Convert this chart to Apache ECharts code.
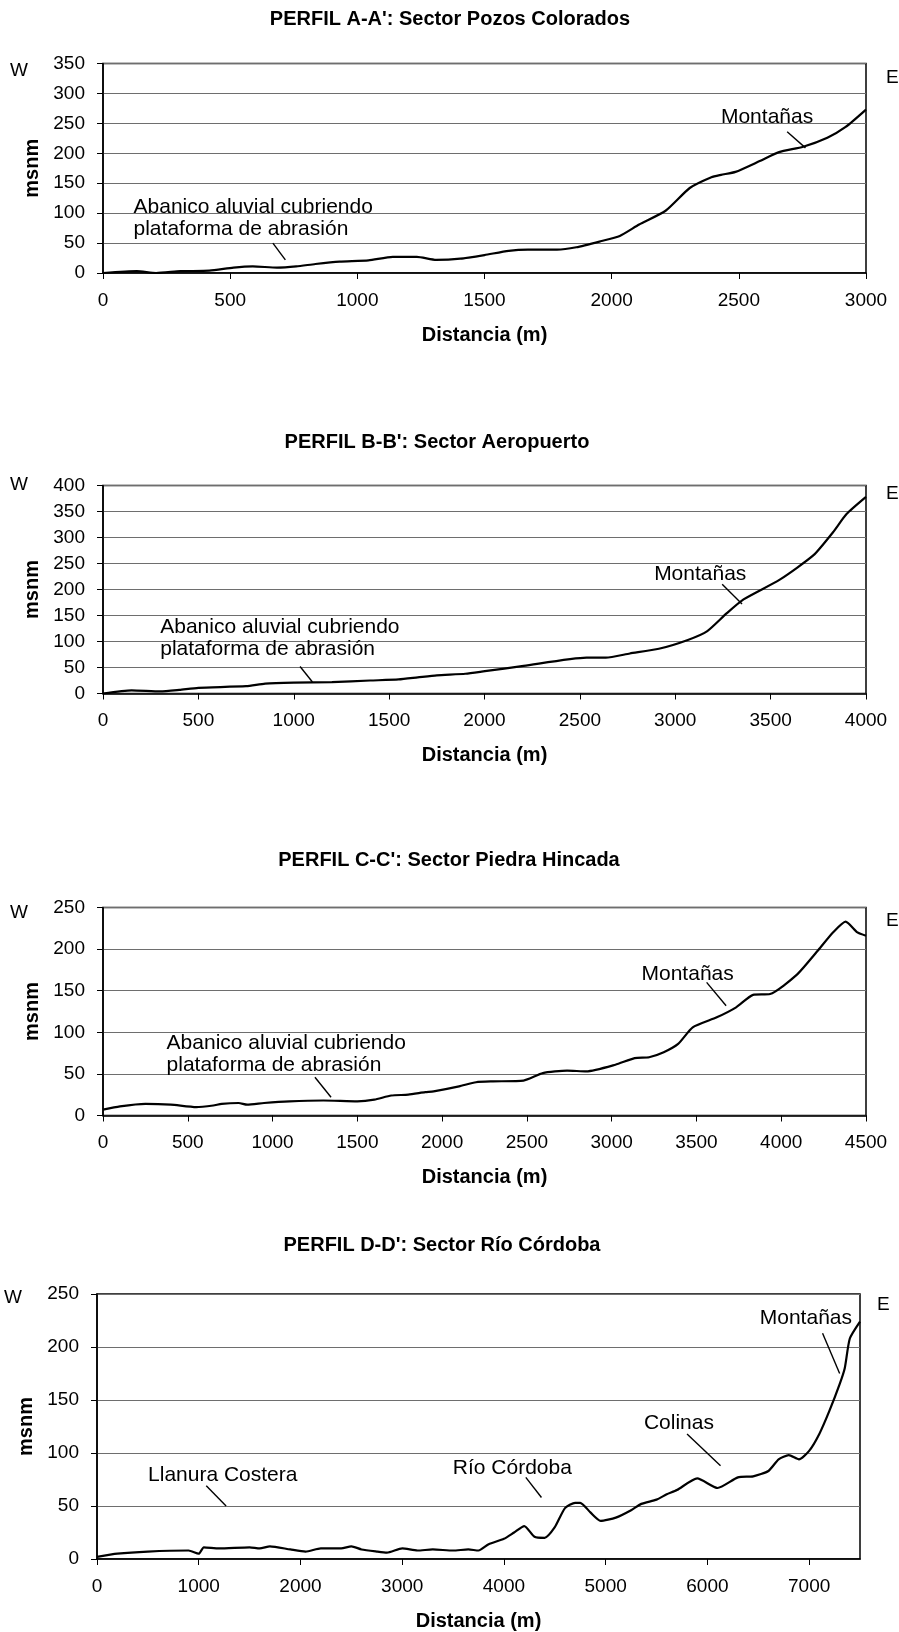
<!DOCTYPE html>
<html><head><meta charset="utf-8">
<script src="https://cdn.jsdelivr.net/npm/echarts@6/dist/echarts.min.js"></script>
<style>html,body{margin:0;padding:0;background:#fff}#c{width:899px;height:1632px}</style>
</head><body><div id="c"></div>
<script>
// ---- Perfil A-A' ----
const titleA = "PERFIL A-A': Sector Pozos Colorados";
const distA = [0,133,209,304,418,513,589,684,760,835,930,1044,1139,1234,1310,1405,1500,1595,1671,1785,1861,1956,2032,2108,2212,2307,2392,2430,2487,2582,2658,2753,2848,2920,3000];
const elevA = [0,3,0,3,4,9,11,9,11,15,19,21,27,27,22,24,30,37,39,39,43,53,62,81,104,142,160,164,169,187,202,211,226,244,273];
const ticksA = {max:3000, interval:500, ymax:350, yint:50};
const notesA = [
  {text:'Abanico aluvial cubriendo\nplataforma de abrasión', at:[120,92], align:'left', lead:[[668,50],[717,22]]},
  {text:'Montañas', at:[2611,261], align:'center', lead:[[2690,236],[2762,209]]}
];
// ---- Perfil B-B' ----
const titleB = "PERFIL B-B': Sector Aeropuerto";
const distB = [0,150,300,400,500,750,850,1000,1200,1400,1550,1650,1750,1900,2002,2205,2535,2636,2762,2914,3066,3168,3269,3358,3548,3725,3827,3898,4000];
const elevB = [0,6,4,7,11,14,19,21,22,25,27,31,35,38,43,53,69,69,77,86,103,120,154,181,219,266,310,345,378];
const ticksB = {max:4000, interval:500, ymax:400, yint:50};
const notesB = [
  {text:'Abanico aluvial cubriendo\nplataforma de abrasión', at:[300,107], align:'left', lead:[[1033,52],[1098,22]]},
  {text:'Montañas', at:[3131,230], align:'center', lead:[[3246,210],[3350,172]]}
];
// ---- Perfil C-C' ----
const titleC = "PERFIL C-C': Sector Piedra Hincada";
const distC = [0,100,250,400,550,650,700,800,850,950,1100,1300,1500,1600,1700,1800,1900,1950,2100,2200,2300,2480,2594,2737,2851,3022,3136,3221,3307,3392,3478,3620,3734,3834,3934,4091,4219,4305,4380,4450,4500];
const elevC = [7,11,14,13,10,12,14,15,13,15,17,18,17,19,24,25,28,29,35,40,41,42,51,54,53,61,69,70,76,86,106,118,130,145,146,169,199,220,233,220,216];
const ticksC = {max:4500, interval:500, ymax:250, yint:50};
const notesC = [
  {text:'Abanico aluvial cubriendo\nplataforma de abrasión', at:[375,74], align:'left', lead:[[1250,46],[1345,22]]},
  {text:'Montañas', at:[3448,170], align:'center', lead:[[3560,160],[3675,132]]}
];
// ---- Perfil D-D' ----
const titleD = "PERFIL D-D': Sector Río Córdoba";
const distD = [0,200,500,900,1000,1050,1200,1500,1600,1700,1900,2050,2200,2400,2500,2600,2750,2850,3000,3150,3300,3500,3650,3750,3850,4000,4100,4200,4300,4400,4500,4600,4700,4750,4850,4950,5100,5250,5350,5500,5600,5700,5900,6100,6300,6450,6600,6700,6800,6900,7000,7100,7200,7300,7350,7400,7500];
const elevD = [2,5,7,8,5,11,10,11,10,12,9,7,10,10,12,9,7,6,10,8,9,8,9,8,14,19,25,31,21,20,30,48,53,53,44,36,39,46,52,56,61,65,76,67,77,78,83,94,98,94,102,118,140,165,180,208,224];
const ticksD = {max:7500, interval:1000, ymax:250, yint:50};
const notesD = [
  {text:'Llanura Costera', at:[1236,79], align:'center', lead:[[1074,69],[1269,50]]},
  {text:'Río Córdoba', at:[4083,86], align:'center', lead:[[4215,77],[4369,58]]},
  {text:'Colinas', at:[5720,128], align:'center', lead:[[5800,118],[6129,88]]},
  {text:'Montañas', at:[6968,227], align:'center', lead:[[7132,213],[7300,175]]}
];

const FONT = '"Liberation Sans", Arial, sans-serif';
const charts = [
  {title:titleA, dist:distA, elev:elevA, t:ticksA, notes:notesA, grid:{left:103, top:63.5, width:763, height:209.5}, tx:450, ty:19, wx:10, wy:71, ex:886, ey:78},
  {title:titleB, dist:distB, elev:elevB, t:ticksB, notes:notesB, grid:{left:103, top:485.5, width:763, height:208}, tx:437, ty:442, wx:10, wy:485, ex:886, ey:494},
  {title:titleC, dist:distC, elev:elevC, t:ticksC, notes:notesC, grid:{left:103, top:907.5, width:763, height:208}, tx:449, ty:860, wx:10, wy:913, ex:886, ey:921},
  {title:titleD, dist:distD, elev:elevD, t:ticksD, notes:notesD, grid:{left:97, top:1294, width:763, height:267.5}, tx:442, ty:1245, wx:4, wy:1298, ex:877, ey:1305}
];

const grids=[], xAxes=[], yAxes=[], series=[], graphics=[];
charts.forEach((c,i)=>{
  grids.push(Object.assign({show:true, borderColor:'#000', borderWidth:1.5, backgroundColor:'#fff', containLabel:false}, c.grid));
  xAxes.push({type:'value', gridIndex:i, min:0, max:c.t.max, interval:c.t.interval,
    name:'Distancia (m)', nameLocation:'middle', nameGap:52,
    nameTextStyle:{fontFamily:FONT, fontWeight:'bold', fontSize:20, color:'#000'},
    axisLine:{show:true, onZero:false, lineStyle:{color:'#000', width:1.5}},
    axisTick:{show:true, inside:false, length:6, lineStyle:{color:'#000'}},
    axisLabel:{margin:18, fontFamily:FONT, fontSize:19, color:'#000', showMaxLabel:(c.t.max % c.t.interval===0), formatter:v=>String(v)},
    splitLine:{show:false}});
  yAxes.push({type:'value', gridIndex:i, min:0, max:c.t.ymax, interval:c.t.yint,
    name:'msnm', nameLocation:'middle', nameGap:61, nameRotate:90,
    nameTextStyle:{fontFamily:FONT, fontWeight:'bold', fontSize:20, color:'#000'},
    axisLine:{show:true, onZero:false, lineStyle:{color:'#000', width:1.5}},
    axisTick:{show:true, inside:false, length:6, lineStyle:{color:'#000'}},
    axisLabel:{margin:18, fontFamily:FONT, fontSize:19, color:'#000', formatter:v=>String(v)},
    splitLine:{show:true, lineStyle:{color:'#6e6e6e', width:1.2}}});
  series.push({type:'line', xAxisIndex:i, yAxisIndex:i, showSymbol:false, smooth:0.2,
    data:c.dist.map((d,k)=>[d,c.elev[k]]),
    lineStyle:{color:'#000', width:2.2}, itemStyle:{color:'#000'}, silent:true, animation:false,
    markPoint:{silent:true, animation:false, symbol:'circle', symbolSize:0.01,
      data:c.notes.map(n=>({coord:n.at, label:{show:true, position:'inside', formatter:n.text,
        align:n.align, verticalAlign:'middle', lineHeight:22, fontFamily:FONT, fontSize:21, color:'#000'}}))},
    markLine:{silent:true, animation:false, symbol:['none','none'], label:{show:false},
      lineStyle:{color:'#000', width:1.4, type:'solid'},
      data:c.notes.map(n=>[{coord:n.lead[0]},{coord:n.lead[1]}])}
  });
  graphics.push({type:'text', x:c.tx, y:c.ty, style:{text:c.title, font:'bold 20px '+FONT, fill:'#000', textAlign:'center', textVerticalAlign:'middle'}});
  graphics.push({type:'text', x:c.wx, y:c.wy, style:{text:'W', font:'19px '+FONT, fill:'#000', textAlign:'left', textVerticalAlign:'middle'}});
  graphics.push({type:'text', x:c.ex, y:c.ey, style:{text:'E', font:'19px '+FONT, fill:'#000', textAlign:'left', textVerticalAlign:'middle'}});
});

const chart = echarts.init(document.getElementById('c'), null, {renderer:'canvas'});
chart.setOption({animation:false, backgroundColor:'#fff', grid:grids, xAxis:xAxes, yAxis:yAxes, series:series, graphic:graphics});
</script></body></html>
